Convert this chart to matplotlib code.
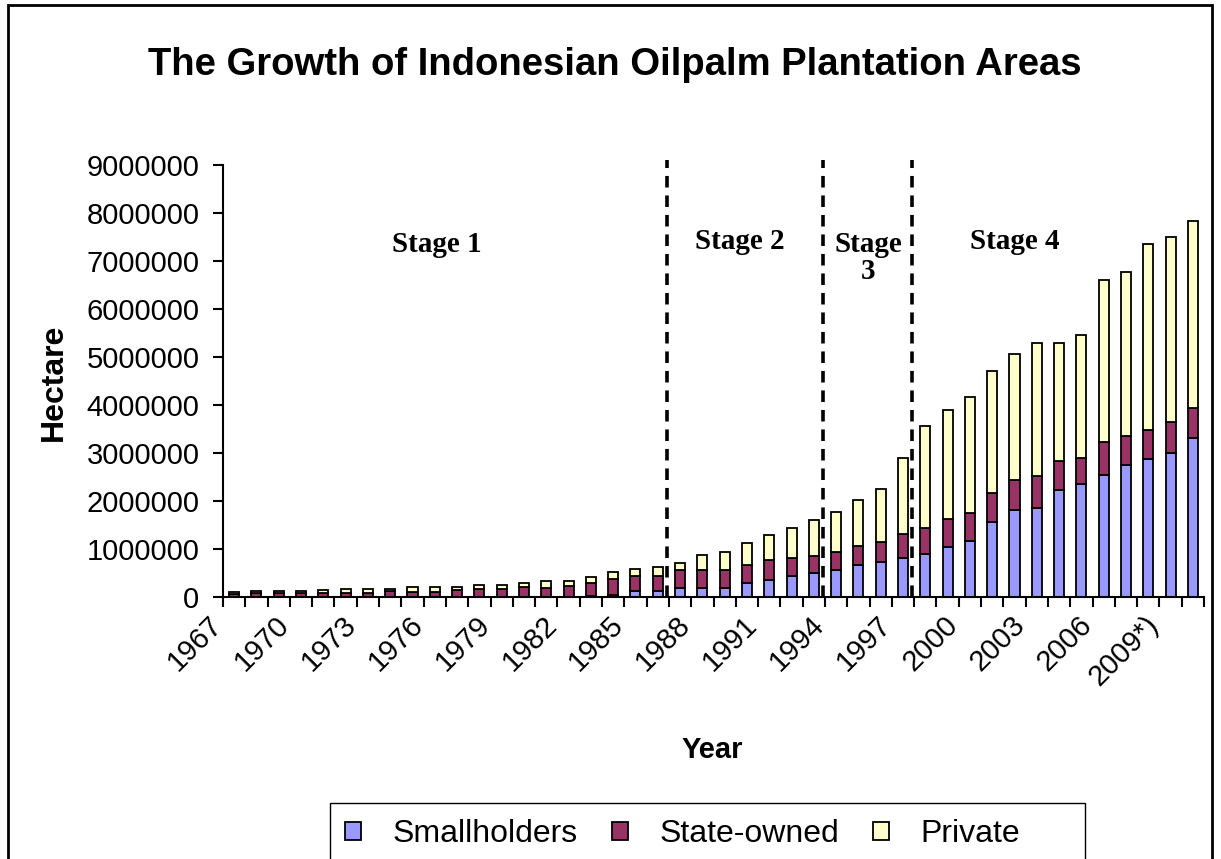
import matplotlib
matplotlib.use("Agg")
import matplotlib.pyplot as plt
import matplotlib.transforms as mtransforms
from matplotlib.patches import Patch, Rectangle
import numpy as np

plt.rcParams['font.family'] = ['Liberation Sans', 'DejaVu Sans']

# year labels (only every third one is shown on the axis)
years = [str(y) for y in range(1967, 2009)] + ['2009*)', '2010*)']

# hectares
smallholders = [0, 0, 0, 0, 0, 0, 0, 0, 0, 0, 0, 0,
                3000, 6000, 10000, 10000, 30000, 40000, 118000, 132000,
                180000, 194000, 194000, 285000, 354000, 440000, 490000, 565000,
                659000, 736000, 820000, 890000, 1041000, 1167000, 1561000,
                1808000, 1854000, 2220000, 2357000, 2550000, 2752000,
                2882000, 3010000, 3315000]
state_owned = [66000, 79000, 85000, 87000, 91000, 90000, 92000, 120000,
               110000, 112000, 150000, 160000, 157000, 194000, 178000,
               226000, 255000, 335000, 326000, 312000,
               376000, 368000, 368000, 372000, 417000, 366000, 364000, 372000,
               405000, 410000, 486000, 557000, 577000, 588000, 610000,
               632000, 663000, 606000, 530000, 687000, 606000,
               603000, 630000, 617000]
private = [44000, 41000, 35000, 47000, 48000, 70000, 75000, 40000,
           90000, 92000, 65000, 97000, 97000, 100000, 152000,
           104000, 139000, 139000, 146000, 188000,
           145000, 306000, 382000, 463000, 514000, 638000, 750000, 841000,
           962000, 1097000, 1597000, 2113000, 2284000, 2403000, 2542000,
           2627000, 2766000, 2459000, 2567000, 3358000, 3408000,
           3879000, 3870000, 3893000]

series_names = ['Smallholders', 'State-owned', 'Private']
series_colors = ['#9999FF', '#993366', '#FFFFCC']

stage_names = ['Stage 1', 'Stage 2', 'Stage\n3', 'Stage 4']
stage_x = [9.1, 22.7, 28.45, 35.0]
stage_y = [7350000, 7400000, 7060000, 7400000]
stage_breaks = [19.4, 26.4, 30.4]

W, H = 1221, 859
fig = plt.figure(figsize=(W / 100, H / 100), dpi=100)
ax = fig.add_axes([223 / W, 1 - 597 / H, (1204 - 223) / W, (597 - 165) / H])

x = np.arange(len(years))
small = np.array(smallholders)
state = np.array(state_owned)
priv = np.array(private)
bw = 0.45
ax.bar(x, small, bw, color=series_colors[0], edgecolor='black', linewidth=1.3)
ax.bar(x, state, bw, bottom=small, color=series_colors[1], edgecolor='black', linewidth=1.3)
ax.bar(x, priv, bw, bottom=small + state, color=series_colors[2], edgecolor='black', linewidth=1.3)

for b in stage_breaks:
    ax.plot([b, b], [0, 9100000], color='black', lw=2.6,
            linestyle=(0, (3.2, 2.2)), clip_on=False, zorder=5)

for name, sx, sy in zip(stage_names, stage_x, stage_y):
    ax.text(sx, sy, name, family='Liberation Serif', fontweight='bold',
            fontsize=21, ha='center', va='center', linespacing=1.0)

ax.set_xlim(-0.5, len(years) - 0.5)
ax.set_ylim(0, 9000000)
yt = np.arange(0, 9000001, 1000000)
ax.set_yticks(yt)
ax.set_yticklabels([str(int(v)) for v in yt], fontsize=21)
ax.tick_params(axis='y', length=7, width=1.5, pad=10)

ax.set_xticks(x[::3])
ax.set_xticklabels(years[::3], fontsize=21, rotation=45, ha='right', va='top',
                   rotation_mode='anchor')
ax.set_xticks(np.arange(-0.5, len(years)), minor=True)
ax.tick_params(axis='x', which='major', length=0, pad=10)
ax.tick_params(axis='x', which='minor', length=7, width=1.5)
shift = mtransforms.ScaledTranslation(-0.26, 0, fig.dpi_scale_trans)
for lab in ax.get_xticklabels():
    lab.set_transform(lab.get_transform() + shift)

for s in ['top', 'right']:
    ax.spines[s].set_visible(False)
for s in ['left', 'bottom']:
    ax.spines[s].set_linewidth(1.5)

fig.text(615 / W, 1 - 65 / H, 'The Growth of Indonesian Oilpalm Plantation Areas',
         fontsize=27.5, fontweight='bold', ha='center', va='center')
fig.text(54 / W, 1 - 382 / H, 'Hectare', fontsize=23, fontweight='bold',
         rotation=90, ha='center', va='center')
fig.text(712 / W, 1 - 750 / H, 'Year', fontsize=21, fontweight='bold',
         ha='center', va='center')

# legend box runs past the bottom edge of the picture
handles = [Patch(facecolor=c, edgecolor='black', linewidth=1.3) for c in series_colors]
fig.legend(handles, series_names, loc='upper left', ncol=3,
           bbox_to_anchor=(345 / W, 1 - 819 / H), fontsize=23,
           frameon=False, borderaxespad=0, borderpad=0,
           handlelength=0.5, handleheight=0.5, handletextpad=1.0,
           columnspacing=1.05)
fig.add_artist(Rectangle((330 / W, -0.1), (1085 - 330) / W, 0.1 + 1 - 803 / H,
                         transform=fig.transFigure, fill=False,
                         edgecolor='black', linewidth=1.0))

fig.add_artist(Rectangle((8 / W, -0.1), (1212 - 8) / W, 1.1 - 5 / H,
                         transform=fig.transFigure, fill=False,
                         edgecolor='black', linewidth=2))

fig.savefig('out.png', dpi=100)
